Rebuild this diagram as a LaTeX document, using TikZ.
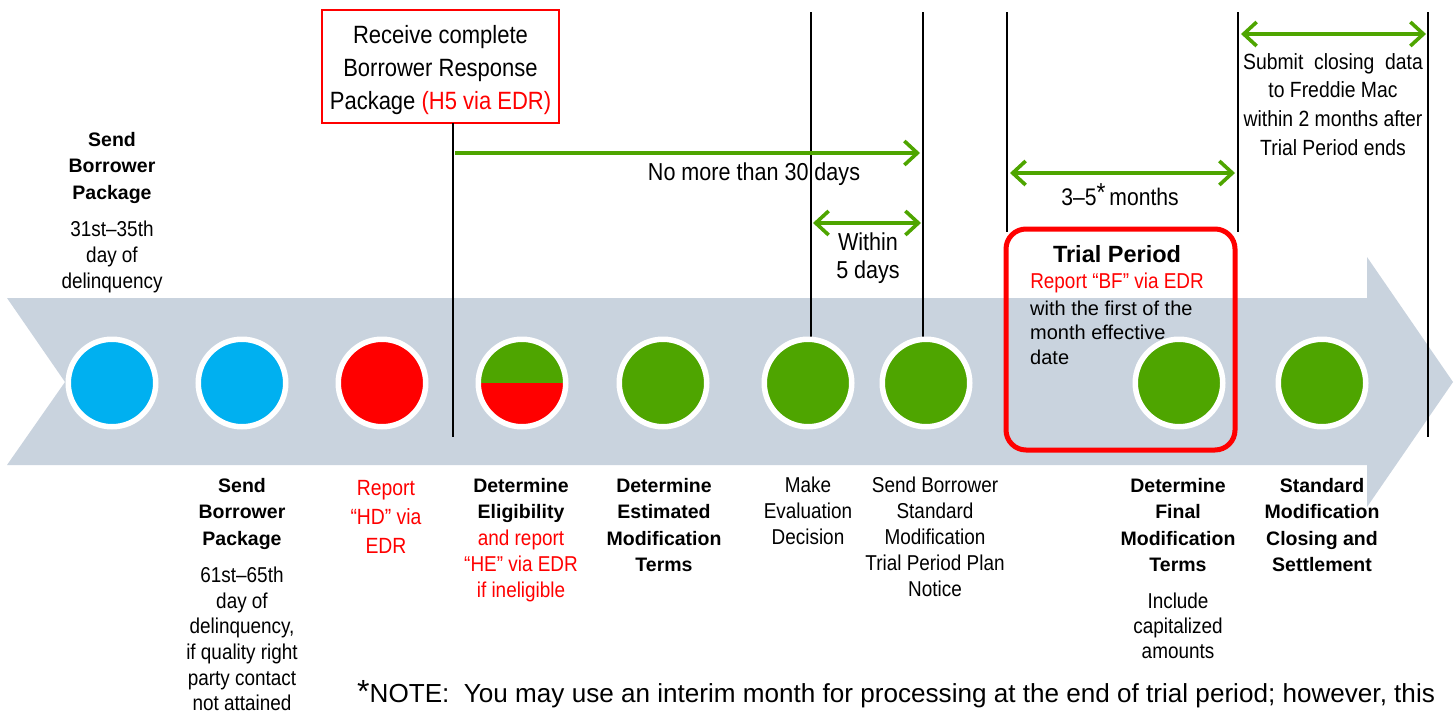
\documentclass[tikz,border=0pt]{standalone}
\usepackage{fontspec}
\setmainfont{Liberation Sans}
\newfontfamily\nar[FakeStretch=0.88]{Liberation Sans}
\usetikzlibrary{arrows.meta}
\definecolor{grn}{RGB}{78,165,0}
\definecolor{blu}{RGB}{0,176,240}
\definecolor{rd}{RGB}{255,0,0}
\definecolor{band}{RGB}{201,211,222}
\tikzset{
  tdot/.style={circle, draw=white, line width=5.5pt, minimum size=87.5pt, inner sep=0pt},
  tline/.style={draw=black, line width=1.3pt},
  garr/.style={draw=grn, line width=3.6pt},
  gtip/.tip={Straight Barb[length=13pt,width=24pt]},
  blab/.style={inner sep=0pt, anchor=north, align=center, font=\fontsize{19.5}{26.5}\selectfont\bfseries},
  nlab/.style={inner sep=0pt, anchor=north, align=center, font=\fontsize{21.5}{26}\selectfont\nar},
  rlab/.style={nlab, text=rd},
}
\begin{document}
\begin{tikzpicture}[x=1pt,y=-1pt]
\useasboundingbox (0,0) rectangle (1455,715);
% timeline band
\fill[band] (7,298) -- (1367,298) -- (1367,257) -- (1453,382) -- (1367,507) -- (1367,465) -- (7,465) -- (65,382) -- cycle;

% top red box
\node[draw=rd, line width=1.5pt, minimum width=237pt, minimum height=113pt, inner sep=0pt] (rbox) at (440.5,66.5) {};
\node[inner sep=0pt, align=center, font=\fontsize{25}{33}\selectfont\nar] (rboxt) at (440.5,70)
      {Receive complete\\Borrower Response\\Package {\color{rd}(H5 via EDR)}};

% vertical marker lines
\coordinate (v1t) at (453,123); \coordinate (v1b) at (453,437);
\coordinate (v2t) at (811,12);  \coordinate (v2b) at (811,340);
\coordinate (v3t) at (923,12);  \coordinate (v3b) at (923,340);
\coordinate (v4t) at (1007,12); \coordinate (v4b) at (1007,232);
\coordinate (v5t) at (1238,12); \coordinate (v5b) at (1238,232);
\coordinate (v6t) at (1428,12); \coordinate (v6b) at (1428,437);
\foreach \i in {1,...,6} {\draw[tline] (v\i t) -- (v\i b);}

% circles
\node[tdot, fill=blu] (c1) at (112,383) {};
\node[tdot, fill=blu] (c2) at (242,383) {};
\node[tdot, fill=rd]  (c3) at (382,383) {};
\node[tdot, fill=rd, path picture={\fill[grn] (path picture bounding box.north west) rectangle (path picture bounding box.east);}] (c4) at (522,383) {};
\node[tdot, fill=grn] (c5) at (663,383) {};
\node[tdot, fill=grn] (c6) at (808,383) {};
\node[tdot, fill=grn] (c7) at (926,383) {};
\node[tdot, fill=grn] (c8) at (1179,383) {};
\node[tdot, fill=grn] (c9) at (1322,383) {};

% trial period box
\node[draw=rd, line width=5pt, rounded corners=20pt, minimum width=229pt, minimum height=221pt, inner sep=0pt] (trial) at (1120.5,339.5) {};
\node[inner sep=0pt, font=\fontsize{23.5}{26}\selectfont\bfseries] (trialt) at (1117,254) {Trial Period};
\node[inner sep=0pt, text=rd, font=\fontsize{21.5}{26}\selectfont\nar] (trialr) at (1117,283) {Report “BF”\ via EDR};
\node[inner sep=0pt, anchor=north west, align=left, font=\fontsize{20}{24.5}\selectfont] (triald) at (1030,300.5)
  {with the first of the\\month effective\\date};

% interval arrows
\coordinate (a1s) at (455,153);  \coordinate (a1e) at (920,153);
\coordinate (a2s) at (813,223);  \coordinate (a2e) at (921,223);
\coordinate (a3s) at (1010,173); \coordinate (a3e) at (1235,173);
\coordinate (a4s) at (1241,34);  \coordinate (a4e) at (1426,34);
\draw[garr, -gtip] (a1s) -- (a1e);
\draw[garr, gtip-gtip] (a2s) -- (a2e);
\draw[garr, gtip-gtip] (a3s) -- (a3e);
\draw[garr, gtip-gtip] (a4s) -- (a4e);

\node[inner sep=0pt, font=\fontsize{24.5}{28}\selectfont\nar] (t30) at (754,174) {No more than 30 days};
\node[inner sep=0pt, anchor=north, align=center, font=\fontsize{24.5}{28}\selectfont\nar] (t5) at (868,233) {Within\\5 days};
\node[inner sep=0pt, font=\fontsize{24}{28}\selectfont\nar] (t35) at (1120,195) {3–5\raisebox{4pt}{\fontsize{26}{26}\selectfont *}\,months};
\node[inner sep=0pt, anchor=north, align=center, font=\fontsize{22}{28.7}\selectfont\nar] (tsub) at (1333,53)
  {Submit\ \ closing\ \ data\\to Freddie Mac\\within 2 months after\\Trial Period\ ends};

% top-left label
\node[blab] (l1a) at (112,132) {Send\\Borrower\\Package};
\node[nlab] (l1b) at (112,221) {31st–35th\\day of\\delinquency};

% bottom labels
\node[blab] (l2a) at (242,478) {Send\\Borrower\\Package};
\node[nlab, font=\fontsize{21.5}{25.6}\selectfont\nar] (l2b) at (242,567) {61st–65th\\day of\\delinquency,\\if quality\ right\\party contact\\not attained};
\node[rlab, font=\fontsize{22}{29}\selectfont\nar] (l3) at (386,480) {Report\\“HD”\ via\\EDR};
\node[blab] (l4a) at (521,478) {Determine\\Eligibility};
\node[rlab] (l4b) at (521,530) {and report\\“HE”\ via\ EDR\\if ineligible};
\node[blab] (l5) at (664,478) {Determine\\Estimated\\Modification\\Terms};
\node[nlab] (l6) at (808,477) {Make\\Evaluation\\Decision};
\node[nlab] (l7) at (935,477) {Send Borrower\\Standard\\Modification\\Trial Period\ Plan\\Notice};
\node[blab] (l8a) at (1178,478) {Determine\\Final\\Modification\\Terms};
\node[nlab, font=\fontsize{21.5}{25}\selectfont\nar] (l8b) at (1178,593) {Include\\capitalized\\amounts};
\node[blab] (l9) at (1322,478) {Standard\\Modification\\Closing and\\Settlement};

% note
\node[inner sep=0pt, anchor=base west, font=\fontsize{26.1}{25}\selectfont] (note) at (357,702)
  {{\fontsize{32}{32}\selectfont *}NOTE:\ \ You may\ use an\ interim month for processing at the end of trial period; however, this};
\end{tikzpicture}
\end{document}
